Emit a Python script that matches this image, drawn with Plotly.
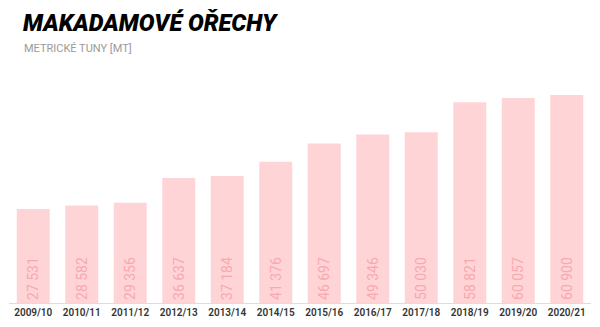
import plotly.graph_objects as go

categories = ["2009/10", "2010/11", "2011/12", "2012/13", "2013/14", "2014/15",
              "2015/16", "2016/17", "2017/18", "2018/19", "2019/20", "2020/21"]
values = [27531, 28582, 29356, 36637, 37184, 41376, 46697, 49346, 50030, 58821, 60057, 60900]
labels = [f"{v:,}".replace(",", " ") for v in values]

fig = go.Figure(go.Bar(
    x=categories, y=values, text=labels,
    textposition="inside", insidetextanchor="start", textangle=-90,
    textfont=dict(family="Roboto", size=14, weight=400, color="#f8a8b0"),
    marker=dict(color="#ffd4d6", line=dict(width=0)),
    cliponaxis=False, hoverinfo="skip"))

fig.update_layout(
    width=600, height=327,
    margin=dict(l=9, r=9, t=64, b=16),
    paper_bgcolor="white", plot_bgcolor="white",
    bargap=0.32, showlegend=False,
    xaxis=dict(showgrid=False, showline=True, linecolor="#dddddd", linewidth=1,
               ticks="", tickfont=dict(family="Roboto", size=10, weight=600, color="#333333"),
               fixedrange=True),
    yaxis=dict(range=[0, 70000], showgrid=False, showticklabels=False,
               zeroline=False, fixedrange=True),
)
fig.add_annotation(text="MAKADAMOVÉ OŘECHY", xref="paper", yref="paper",
                   x=0, y=1, xshift=12, yshift=57, xanchor="left", yanchor="top", showarrow=False,
                   font=dict(family="Roboto", size=23.5, weight=900, style="italic", color="#000000"))
fig.add_annotation(text="METRICKÉ TUNY [MT]", xref="paper", yref="paper",
                   x=0, y=1, xshift=13, yshift=24, xanchor="left", yanchor="top", showarrow=False,
                   font=dict(family="Roboto", size=11, color="#9a9a9a"))

fig.write_html("out.html")
